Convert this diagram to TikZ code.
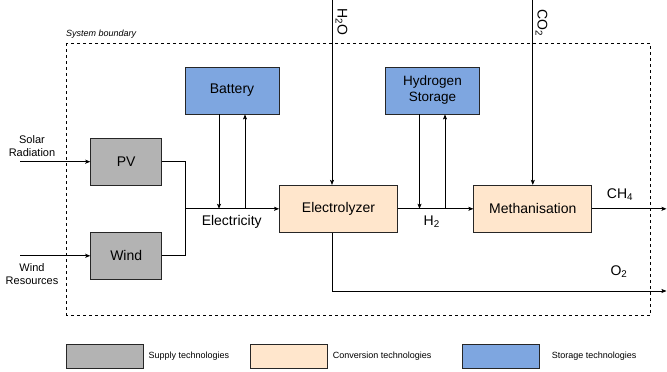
\documentclass[tikz,border=0pt]{standalone}
\usepackage{fontspec}
\setmainfont{Liberation Sans}
\usetikzlibrary{arrows.meta,calc}
\definecolor{supplygray}{HTML}{B3B3B3}
\definecolor{convpeach}{HTML}{FFE6CC}
\definecolor{storblue}{HTML}{7EA6E0}
\begin{document}
\begin{tikzpicture}[x=1pt,y=-1pt,
  box/.style={draw=black!85,line width=0.8pt,inner sep=0pt,align=center,
    font=\fontsize{14}{16}\selectfont},
  supply/.style={box,fill=supplygray,minimum width=71pt,minimum height=47pt},
  conv/.style={box,fill=convpeach,minimum width=118pt,minimum height=47pt},
  stor/.style={box,fill=storblue,minimum width=94pt,minimum height=47pt},
  legbox/.style={draw=black!85,line width=0.8pt,minimum width=77pt,minimum height=24pt,inner sep=0pt},
  legtxt/.style={anchor=west,inner sep=0pt,font=\fontsize{9}{11}\selectfont},
  lbl/.style={inner sep=0pt,font=\fontsize{14}{16}\selectfont},
  smalllbl/.style={inner sep=0pt,align=center,font=\fontsize{11}{13}\selectfont},
  conn/.style={draw=black,line width=0.8pt},
  arr/.style={conn,-{Stealth[length=5pt,width=4pt,inset=1pt]}}
]
\useasboundingbox (0,0) rectangle (667,372);
% system boundary
\draw[dashed,line width=0.8pt,dash pattern=on 3pt off 3pt] (66.7,43.3) rectangle (650.7,315);
\node[anchor=south west,inner sep=0pt,font=\fontsize{9}{11}\selectfont\itshape] (sbl) at (66,38.5) {System boundary};

% nodes
\node[stor] (bat) at (232,90.5) {Battery};
\node[stor,font=\fontsize{13.5}{16}\selectfont] (hs) at (432.5,90.5) {Hydrogen\\Storage};
\node[supply] (pv) at (126.2,161.7) {PV};
\node[supply] (wind) at (126.2,255.8) {Wind};
\node[conv] (elec) at (338.5,208.8) {Electrolyzer};
\node[conv] (meth) at (532.8,208.8) {Methanisation};

% external inputs
\coordinate (solin) at (20,161.7);
\coordinate (windin) at (20,255.8);
\coordinate (h2oin) at (332,0);
\coordinate (co2in) at (532.8,0);
\coordinate (ch4out) at (666.5,208.8);
\coordinate (o2out) at (666.5,291);
\coordinate (J) at (185,208.8);

\draw[arr] (solin) -- (pv.west);
\draw[arr] (windin) -- (wind.west);
\draw[conn] (pv.east) -| (J);
\draw[conn] (wind.east) -| (J);
\draw[arr] (J) -- (elec.west);
\draw[arr] ([xshift=-13pt]bat.south) -- ([xshift=-13pt]bat.south |- J);
\draw[arr] ([xshift=13pt]bat.south |- J) -- ([xshift=13pt]bat.south);
\draw[arr] (h2oin) -- (h2oin |- elec.north);
\draw[arr] (co2in) -- (co2in |- meth.north);
\draw[arr] (elec.east) -- (meth.west);
\draw[arr] ([xshift=-13pt]hs.south) -- ([xshift=-13pt]hs.south |- meth.west);
\draw[arr] ([xshift=12.5pt]hs.south |- meth.west) -- ([xshift=12.5pt]hs.south);
\draw[arr] (meth.east) -- (ch4out);
\draw[arr] (h2oin |- elec.south) |- (o2out);

% labels
\node[smalllbl] (sol) at (32,146) {Solar\\Radiation};
\node[smalllbl] (windres) at (32,274.5) {Wind\\Resources};
\node[lbl] (elecl) at (231.7,221.5) {Electricity};
\node[lbl] (h2l) at (431.7,221.5) {H\textsubscript{2}};
\node[lbl] (ch4l) at (620,194.5) {CH\textsubscript{4}};
\node[lbl] (o2l) at (619,271.5) {O\textsubscript{2}};
\node[lbl,rotate=-90] (h2ol) at (341.5,21.5) {H\textsubscript{2}O};
\node[lbl,rotate=-90] (co2l) at (541.5,22.5) {CO\textsubscript{2}};

% legend
\node[legbox,fill=supplygray] (lg1) at (105.3,356.3) {};
\node[legtxt] (lt1) at (148.5,356.3) {Supply technologies};
\node[legbox,fill=convpeach] (lg2) at (289,356.3) {};
\node[legtxt] (lt2) at (332.7,356.3) {Conversion technologies};
\node[legbox,fill=storblue] (lg3) at (501.3,356.3) {};
\node[legtxt] (lt3) at (551.7,356.3) {Storage technologies};
\end{tikzpicture}
\end{document}
